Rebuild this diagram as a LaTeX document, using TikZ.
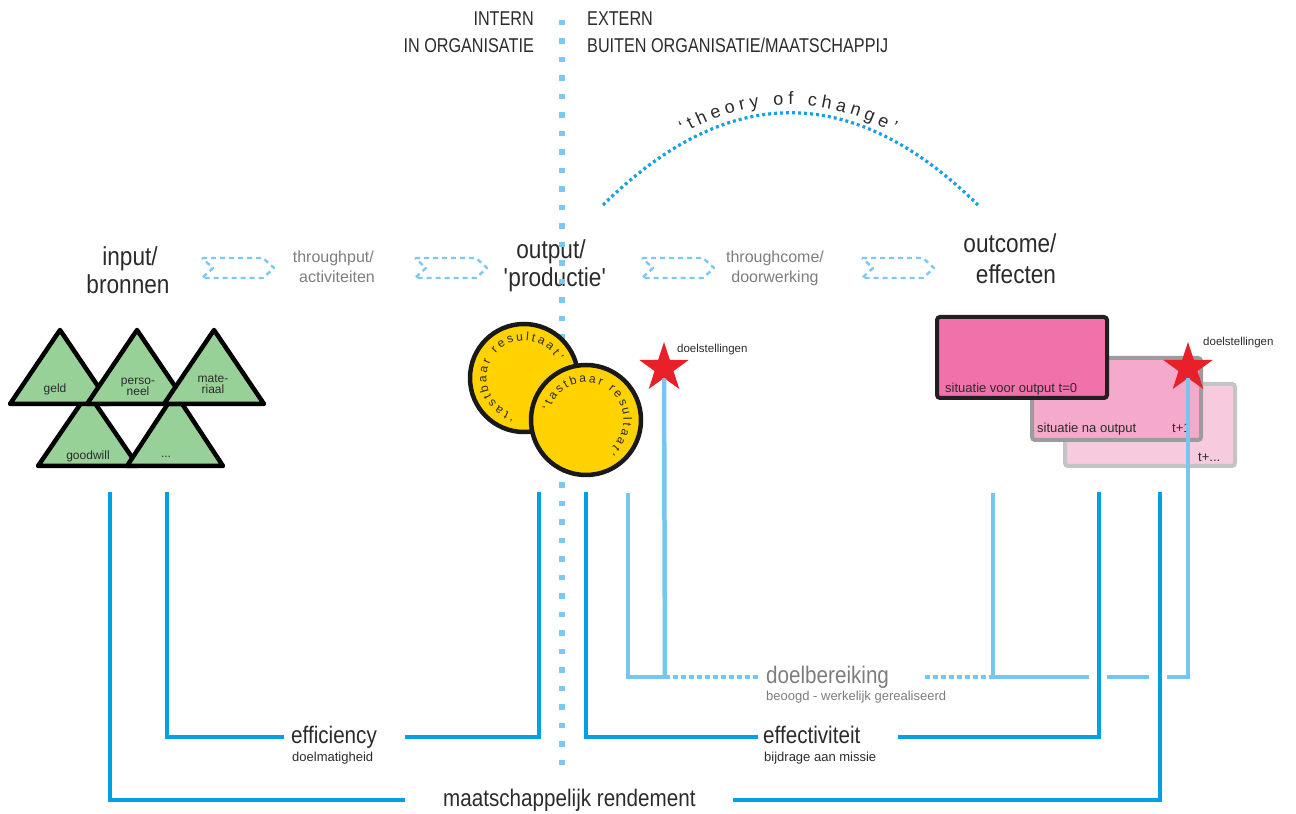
\documentclass[tikz,border=0pt]{standalone}
\usepackage{fontspec}
\setmainfont{Liberation Sans}
\newfontfamily\HeadFont[FakeStretch=0.87]{Liberation Sans}
\newfontfamily\CapsFont[FakeStretch=0.81]{Liberation Sans}
\newfontfamily\NarrowFont[FakeStretch=0.86]{Liberation Sans}
\usetikzlibrary{shapes.geometric,decorations.text,calc}

\definecolor{lineBlue}{HTML}{00A0E3}
\definecolor{softBlue}{HTML}{78C6EF}
\definecolor{dotBlue}{HTML}{7CC8F0}
\definecolor{arcBlue}{HTML}{1B9FE2}
\definecolor{leafGreen}{HTML}{98D198}
\definecolor{coinYellow}{HTML}{FFD200}
\definecolor{starRed}{HTML}{E8202A}
\definecolor{pinkA}{HTML}{F171AA}
\definecolor{pinkB}{HTML}{F5AACB}
\definecolor{pinkC}{HTML}{F8CADD}
\definecolor{frameA}{HTML}{231F20}
\definecolor{frameB}{HTML}{9C9C9C}
\definecolor{frameC}{HTML}{C4C4C4}
\definecolor{ink}{HTML}{2B2B2B}
\definecolor{greyInk}{HTML}{7D7D7D}

\newcommand{\ArcFont}{\fontsize{18}{18}\selectfont}
\newcommand{\CoinFont}{\fontsize{12}{12}\selectfont}

\begin{document}
\begin{tikzpicture}[x=1pt,y=1pt,
  big/.style={font=\HeadFont\fontsize{26}{26}\selectfont, text=ink, inner sep=0pt, anchor=base},
  mid/.style={font=\fontsize{16}{16}\selectfont, text=greyInk, inner sep=0pt, anchor=base},
  heading/.style={font=\CapsFont\fontsize{20}{20}\selectfont, text=ink, inner sep=0pt},
  measure/.style={font=\NarrowFont\fontsize{24}{24}\selectfont, text=ink, inner sep=0pt, anchor=base west},
  small/.style={font=\fontsize{13}{13}\selectfont, text=ink, inner sep=0pt, anchor=base west},
  tiny/.style={font=\fontsize{11.5}{11.5}\selectfont, text=ink, inner sep=0pt, anchor=base west},
  leaf/.style={fill=leafGreen, draw=black, line width=4.5pt, line join=round},
  leaftext/.style={font=\fontsize{12}{11.5}\selectfont, text=ink, inner sep=0pt, align=center},
  coin/.style={circle, fill=coinYellow, draw=black!90, line width=4.5pt, inner sep=0pt},
  goalstar/.style={star, star points=5, star point ratio=2.6, minimum size=52pt, inner sep=0pt, fill=starRed},
  flowarrow/.style={draw=dotBlue, line width=2.4pt, dash pattern=on 5pt off 4pt, line join=round},
  mainline/.style={draw=lineBlue, line width=4.5pt},
  goalline/.style={draw=softBlue, line width=4.5pt},
  goaldots/.style={draw=softBlue, line width=4.5pt, dash pattern=on 5pt off 3pt},
  situation/.style={rectangle, rounded corners=3pt, line width=4pt, inner sep=0pt},
]
\useasboundingbox (0,0) rectangle (1296,814);

% ---- headings either side of the divide
\node[heading, anchor=base east] (hInt)  at (534,788) {INTERN};
\node[heading, anchor=base east] (hIntB) at (534,761) {IN ORGANISATIE};
\node[heading, anchor=base west] (hExt)  at (587,788) {EXTERN};
\node[heading, anchor=base west] (hExtB) at (587,761) {BUITEN ORGANISATIE/MAATSCHAPPIJ};

% ---- chain of stages
\node[big] (inA)  at (130,548) {input/};
\node[big] (inB)  at (128,520) {bronnen};
\node[mid, anchor=base east] (thA) at (374,551) {throughput/};
\node[mid, anchor=base east] (thB) at (375,531) {activiteiten};
\node[big] (outA) at (551,555) {output/};
\node[big] (outB) at (555,527) {\textquotesingle productie\textquotesingle};
\node[mid] (tcA)  at (775,551) {throughcome/};
\node[mid] (tcB)  at (775,531) {doorwerking};
\node[big] (ocA)  at (1010,561) {outcome/};
\node[big] (ocB)  at (1016,530) {effecten};

% dashed flow arrows between the stages
\foreach \L in {202,415,642,862}{
  \draw[flowarrow] (\L,556) -- ++(61,0) -- ++(11,-10) -- ++(-11,-10) -- ++(-61,0) -- ++(11,10) -- cycle;
}

% ---- dotted divide between inside and outside
\coordinate (divTop) at (562,794);
\coordinate (divBot) at (562,49);
\draw[draw=dotBlue, line width=5.5pt, dash pattern=on 5.5pt off 13pt] (divTop) -- (divBot);

% ---- theory of change arc
\coordinate (tocL) at (603,609);
\coordinate (tocR) at (978,609);
\draw[draw=arcBlue, line width=3.2pt, dash pattern=on 3pt off 3pt] (tocL) .. controls (728,732) and (853,732) .. (tocR);
\path[decorate, decoration={text along path, text={|\ArcFont|‘theory of change’}, text align={fit to path}, text color=ink}]
  (683,680) .. controls (754,719) and (824,719) .. (893,681);

% ---- resources (triangles)
\draw[leaf] (38,348) -- (88,421) -- (138,348) -- cycle;
\draw[leaf] (127,348) -- (175,421) -- (223,348) -- cycle;
\draw[leaf] (10,410) -- (60,484) -- (110,410) -- cycle;
\draw[leaf] (87,410) -- (137,484) -- (187,410) -- cycle;
\draw[leaf] (164,410) -- (214,484) -- (264,410) -- cycle;
\node[leaftext] (tGeld)  at (55,425)  {geld};
\node[leaftext] (tStaff) at (138,427) {perso-\\neel};
\node[leaftext] (tMat)   at (213,430) {mate-\\riaal};
\node[leaftext] (tGood)  at (88,358)  {goodwill};
\node[leaftext] (tMore)  at (166,357) {...};

% ---- output coins
\node[coin, minimum size=108pt] (coinA) at (524,436) {};
\path[decorate, decoration={text along path, text={|\CoinFont|‘tastbaar resultaat’}, text align={fit to path}, text color=ink}]
  ($(coinA.center)+(255:37.5)$) arc[start angle=255, end angle=28, radius=37.5];
\node[coin, minimum size=110pt] (coinB) at (586,394) {};
\path[decorate, decoration={text along path, text={|\CoinFont|‘tastbaar resultaat’}, text align={fit to path}, text color=ink}]
  ($(coinB.center)+(165:37.5)$) arc[start angle=165, end angle=-53, radius=37.5];

% ---- situations over time
\node[situation, draw=frameC, fill=pinkC, minimum width=170pt, minimum height=82pt] (boxC) at (1150,389) {};
\node[small] (sitCt) at (1198,352) {t+...};
\node[situation, draw=frameB, fill=pinkB, minimum width=169pt, minimum height=82pt] (boxB) at (1116.5,415) {};
\node[small] (sitB)  at (1037,381) {situatie na output};
\node[small] (sitBt) at (1172,381) {t+1};
\node[situation, draw=frameA, fill=pinkA, minimum width=170pt, minimum height=81pt] (boxA) at (1022,456.5) {};
\node[small] (sitA)  at (945,421) {situatie voor output t=0};

% ---- goals
\node[goalstar] (starA) at (664,446) {};
\node[goalstar] (starB) at (1188,446) {};
\node[tiny] (goalA) at (677,461) {doelstellingen};
\node[tiny] (goalB) at (1203,468) {doelstellingen};

% ---- goal attainment bracket
\coordinate (gLtop) at (628,321);
\coordinate (gL)    at (628,137);
\coordinate (gA)    at (665,137);
\coordinate (gDotL) at (760,137);
\coordinate (gDotR) at (925,137);
\coordinate (gRe)   at (993,137);
\coordinate (gRf)   at (993,321);
\coordinate (gRd)   at (1089,137);
\coordinate (gRc)   at (1107,137);
\coordinate (gRb)   at (1149,137);
\coordinate (gRa)   at (1167,137);
\coordinate (gR)    at (1188,137);
\draw[goalline] (gLtop) -- (gL) -- (gA);
\draw[goalline] (starA) -- (gA);
\draw[goaldots] (gA) -- (gDotL);
\draw[goaldots] (gDotR) -- (gRe);
\draw[goalline] (gRf) -- (gRe) -- (gRd);
\draw[goalline] (gRc) -- (gRb);
\draw[goalline] (gRa) -- (gR) -- (starB);
\node[measure, text=greyInk] (mGoal) at (766,130) {doelbereiking};
\node[small, text=greyInk] (mGoalSub) at (766,113) {beoogd - werkelijk gerealiseerd};

% ---- efficiency bracket
\coordinate (eTopL) at (167,322);
\coordinate (eBotL) at (167,77);
\coordinate (eGapL) at (284,77);
\coordinate (eGapR) at (405,77);
\coordinate (eBotR) at (539,77);
\coordinate (eTopR) at (539,322);
\draw[mainline] (eTopL) -- (eBotL) -- (eGapL);
\draw[mainline] (eGapR) -- (eBotR) -- (eTopR);
\node[measure] (mEff) at (291,70) {efficiency};
\node[small] (mEffSub) at (292,52) {doelmatigheid};

% ---- effectiveness bracket
\coordinate (fTopL) at (586,322);
\coordinate (fBotL) at (586,77);
\coordinate (fGapL) at (758,77);
\coordinate (fGapR) at (898,77);
\coordinate (fBotR) at (1099,77);
\coordinate (fTopR) at (1099,322);
\draw[mainline] (fTopL) -- (fBotL) -- (fGapL);
\draw[mainline] (fGapR) -- (fBotR) -- (fTopR);
\node[measure] (mFx) at (763,70) {effectiviteit};
\node[small] (mFxSub) at (764,52) {bijdrage aan missie};

% ---- social return bracket
\coordinate (rTopL) at (110,322);
\coordinate (rBotL) at (110,14);
\coordinate (rGapL) at (405,14);
\coordinate (rGapR) at (733,14);
\coordinate (rBotR) at (1160,14);
\coordinate (rTopR) at (1160,322);
\draw[mainline] (rTopL) -- (rBotL) -- (rGapL);
\draw[mainline] (rGapR) -- (rBotR) -- (rTopR);
\node[measure] (mSoc) at (443,8) {maatschappelijk rendement};
\end{tikzpicture}
\end{document}
